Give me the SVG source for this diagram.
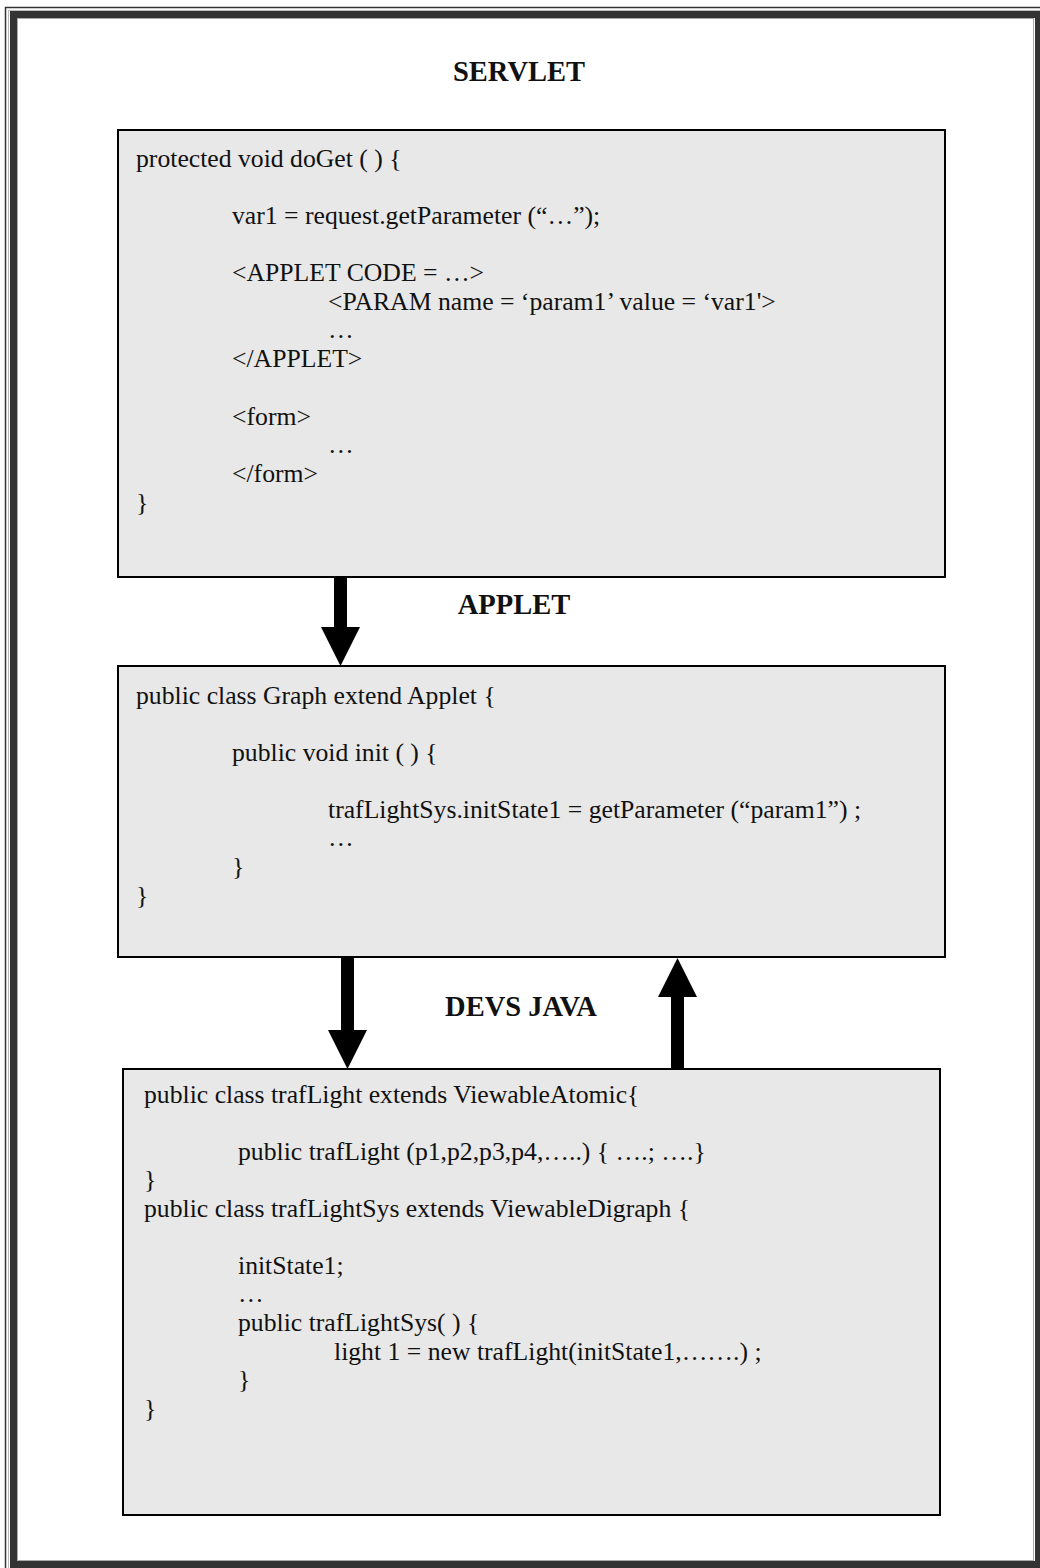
<svg xmlns="http://www.w3.org/2000/svg" width="1040" height="1568" viewBox="0 0 1040 1568">
<style>
.code{font-family:"Liberation Serif","Times New Roman",serif;font-size:25.7px;fill:#111}
.lbl{font-family:"Liberation Serif","Times New Roman",serif;font-size:28.5px;font-weight:bold;fill:#111;text-anchor:middle}
.box{fill:#e8e8e8;stroke:#000;stroke-width:2}
.arr{fill:#000}
</style>
<rect width="1040" height="1568" fill="#fff"/>
<g id="frame">
<rect x="5.5" y="7.5" width="1060" height="1600" fill="none" stroke="#333" stroke-width="1.5"/>
<rect x="8.5" y="10.5" width="1060" height="1600" fill="none" stroke="#bbb" stroke-width="1"/>
<rect x="13.5" y="14.5" width="1025" height="1550" fill="none" stroke="#333" stroke-width="7"/>
<rect x="17.5" y="18.5" width="1016" height="1542" fill="none" stroke="#aaa" stroke-width="1"/>
</g>
<g id="servlet">
<text class="lbl" x="519" y="81">SERVLET</text>
<rect class="box" x="118" y="130" width="827" height="447"/>
<text class="code" x="136" y="167">protected void doGet ( ) {</text>
<text class="code" x="232" y="224">var1 = request.getParameter (&#8220;&#8230;&#8221;);</text>
<text class="code" x="232" y="281">&lt;APPLET CODE = &#8230;&gt;</text>
<text class="code" x="328" y="310">&lt;PARAM name = &#8216;param1&#8217; value = &#8216;var1'&gt;</text>
<text class="code" x="328" y="338">&#8230;</text>
<text class="code" x="232" y="367">&lt;/APPLET&gt;</text>
<text class="code" x="232" y="425">&lt;form&gt;</text>
<text class="code" x="328" y="453">&#8230;</text>
<text class="code" x="232" y="482">&lt;/form&gt;</text>
<text class="code" x="136" y="511">}</text>
</g>
<g id="applet">
<text class="lbl" x="514" y="614">APPLET</text>
<rect class="box" x="118" y="666" width="827" height="291"/>
<text class="code" x="136" y="704">public class Graph extend Applet {</text>
<text class="code" x="232" y="761">public void init ( ) {</text>
<text class="code" x="328" y="818">trafLightSys.initState1 = getParameter (&#8220;param1&#8221;) ;</text>
<text class="code" x="328" y="846">&#8230;</text>
<text class="code" x="232" y="875">}</text>
<text class="code" x="136" y="904">}</text>
</g>
<g id="devsjava">
<text class="lbl" x="521" y="1016">DEVS JAVA</text>
<rect class="box" x="123" y="1069" width="817" height="446"/>
<text class="code" x="144" y="1103">public class trafLight extends ViewableAtomic{</text>
<text class="code" x="238" y="1160">public trafLight (p1,p2,p3,p4,&#8230;..) { &#8230;.; &#8230;.}</text>
<text class="code" x="144" y="1188">}</text>
<text class="code" x="144" y="1217">public class trafLightSys extends ViewableDigraph {</text>
<text class="code" x="238" y="1274">initState1;</text>
<text class="code" x="238" y="1302">&#8230;</text>
<text class="code" x="238" y="1331">public trafLightSys( ) {</text>
<text class="code" x="334" y="1360">light 1 = new trafLight(initState1,&#8230;&#8230;.) ;</text>
<text class="code" x="238" y="1388">}</text>
<text class="code" x="144" y="1417">}</text>
</g>
<g id="connectors">
<polygon class="arr" points="334,578 347,578 347,627 360,627 340.5,666 321,627 334,627"/>
<polygon class="arr" points="341,958 354,958 354,1030 367,1030 347.5,1069 328,1030 341,1030"/>
<polygon class="arr" points="671,1068 684,1068 684,997 697,997 677.5,958 658,997 671,997"/>
</g>
</svg>
